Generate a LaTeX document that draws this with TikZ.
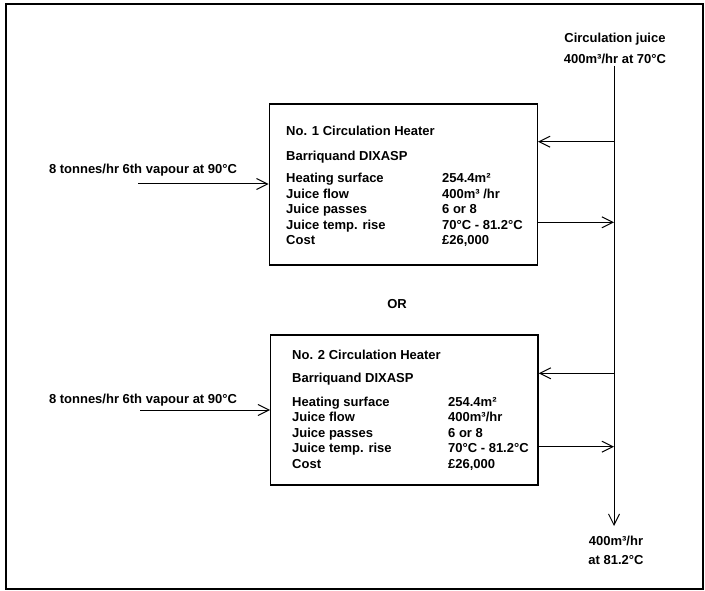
\documentclass[tikz,border=0pt]{standalone}
\usepackage{fontspec}
\setmainfont{Liberation Sans}
\usetikzlibrary{arrows.meta}

\begin{document}
\begin{tikzpicture}[x=1pt,y=-1pt,font=\bfseries\fontsize{13}{15.6}\selectfont]
        \tikzstyle{heater}=[rectangle,draw=black,line width=1.4pt,inner sep=0pt]
        \tikzstyle{label}=[inner sep=0pt,align=center]
        \tikzstyle{edge}=[draw,line width=1pt,-{Straight Barb[length=11pt,width=11pt,line width=1pt]}]
        \useasboundingbox (0,0) rectangle (705,591);
        \draw[line width=2pt] (6,4) rectangle (703,589);

       \begin{scope}
         % circulation juice line
         \node [label,anchor=base] (jin) at (615,63.3) {Circulation juice\\[5pt]400m³/hr at 70°C};
         \coordinate (jtop) at (614,66);
         \coordinate (jbot) at (614,526);
         \node [label,anchor=base] (jout) at (616,564.3) {400m³/hr\\[3.7pt]at 81.2°C};
         \path[edge] (jtop) -- (jbot);

         % heater 1
         \node [heater,minimum width=268pt,minimum height=161pt] (h1) at (403.3,184.5) {};
         \node [inner sep=0pt,anchor=base west] (t1) at (286,136) {%
           \begin{tabular}[t]{@{}l@{}p{0pt}@{}}
             No. 1 Circulation Heater \\[9.4pt]
             Barriquand DIXASP \\[6pt]
           \end{tabular}};
         \node [inner sep=0pt,anchor=base west] (d1) at (286,182.6) {%
           \begin{tabular}[t]{@{}p{156pt}@{}l@{}}
             Heating surface & 254.4m² \\
             Juice flow & 400m³ /hr \\
             Juice passes & 6 or 8 \\
             Juice temp. rise & 70°C - 81.2°C \\
             Cost & £26,000
           \end{tabular}};
         \coordinate (j1a) at (614,141.7);
         \coordinate (j1b) at (h1.east |- 0,222.3);
         \path[edge] (j1a) -- (j1a -| h1.east);
         \path[edge] (j1b) -- (j1b -| jtop);
         \node [label,anchor=base] (v1) at (143,173.3) {8 tonnes/hr 6th vapour at 90°C};
         \coordinate (v1s) at (138,184);
         \path[edge] (v1s) -- (v1s -| h1.west);

         \node [label,anchor=base] (or) at (397,308.3) {OR};

         % heater 2
         \node [heater,minimum width=267.3pt,minimum height=150pt] (h2) at (404.4,410) {};
         \node [inner sep=0pt,anchor=base west] (t2) at (292,359.5) {%
           \begin{tabular}[t]{@{}l@{}p{0pt}@{}}
             No. 2 Circulation Heater \\[7.5pt]
             Barriquand DIXASP \\[7.8pt]
           \end{tabular}};
         \node [inner sep=0pt,anchor=base west] (d2) at (292,406) {%
           \begin{tabular}[t]{@{}p{156pt}@{}l@{}}
             Heating surface & 254.4m² \\
             Juice flow & 400m³/hr \\
             Juice passes & 6 or 8 \\
             Juice temp. rise & 70°C - 81.2°C \\
             Cost & £26,000
           \end{tabular}};
         \coordinate (j2a) at (614,373.3);
         \coordinate (j2b) at (h2.east |- 0,446.7);
         \path[edge] (j2a) -- (j2a -| h2.east);
         \path[edge] (j2b) -- (j2b -| jtop);
         \node [label,anchor=base] (v2) at (143,403.3) {8 tonnes/hr 6th vapour at 90°C};
         \coordinate (v2s) at (140,410);
         \path[edge] (v2s) -- (v2s -| h2.west);
        \end{scope}
      \end{tikzpicture}
\end{document}
